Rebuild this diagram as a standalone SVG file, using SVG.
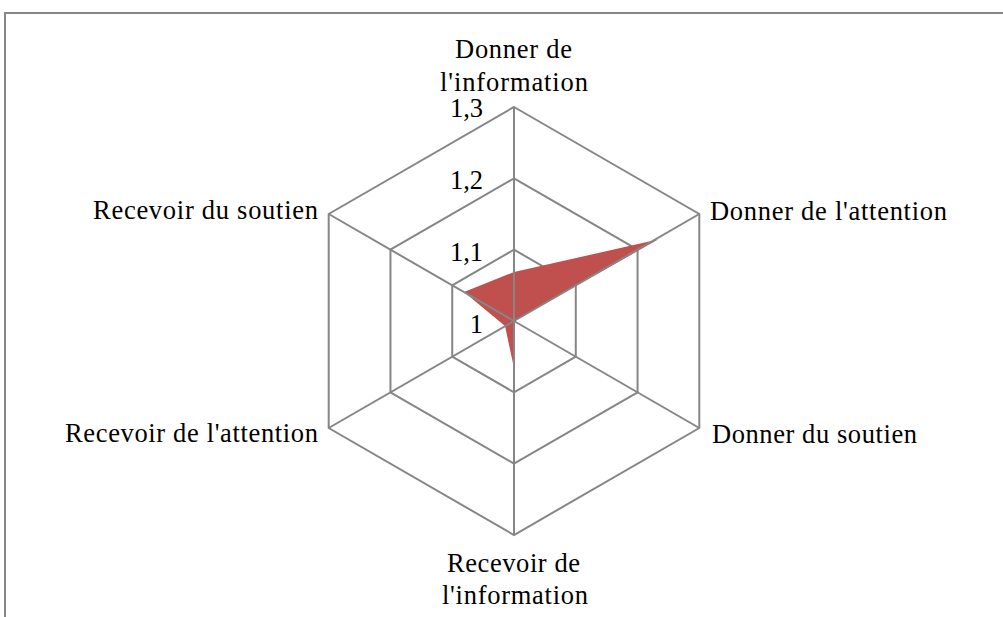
<svg xmlns="http://www.w3.org/2000/svg" width="1003" height="617" viewBox="0 0 1003 617">
<style>
.grid{fill:none;stroke:#868686;stroke-width:2}
.lbl{font-family:"Liberation Serif","Times New Roman",serif;font-size:26.5px;fill:#000}
.mid{text-anchor:middle}
.end{text-anchor:end}
</style>
<rect x="0" y="0" width="1003" height="617" fill="#fff"/>
<rect id="frame" x="5" y="13" width="1010" height="620" fill="#fff" stroke="#868686" stroke-width="2"/>
<g id="rings" class="grid">
<polygon points="514,107 699.3,214 699.3,428 514,535 328.7,428 328.7,214"/>
<polygon points="514,178.33 637.55,249.67 637.55,392.33 514,463.67 390.45,392.33 390.45,249.67"/>
<polygon points="514,249.67 575.77,285.33 575.77,356.67 514,392.33 452.23,356.67 452.23,285.33"/>
</g>
<g id="series">
<polygon points="464,292 514,272 658,239.5 514,321 514,368 505,326" fill="#C0504D"/>
</g>
<g id="connectors" class="grid">
<line x1="514" y1="321" x2="514" y2="107"/>
<line x1="514" y1="321" x2="699.3" y2="214"/>
<line x1="514" y1="321" x2="699.3" y2="428"/>
<line x1="514" y1="321" x2="514" y2="535"/>
<line x1="514" y1="321" x2="328.7" y2="428"/>
<line x1="514" y1="321" x2="328.7" y2="214"/>
</g>
<g id="ticks" class="lbl end">
<text x="483" y="117">1,3</text>
<text x="483" y="189">1,2</text>
<text x="483" y="260.5">1,1</text>
<text x="483" y="333">1</text>
</g>
<g id="label-donner-information" class="lbl mid">
<text x="513.5" y="58" textLength="117" lengthAdjust="spacing">Donner de</text>
<text x="514" y="90.7" textLength="148" lengthAdjust="spacing">l'information</text>
</g>
<g id="label-donner-attention" class="lbl">
<text x="710" y="220" textLength="237" lengthAdjust="spacing">Donner de l'attention</text>
</g>
<g id="label-donner-soutien" class="lbl">
<text x="712" y="443" textLength="205" lengthAdjust="spacing">Donner du soutien</text>
</g>
<g id="label-recevoir-information" class="lbl mid">
<text x="513.5" y="572" textLength="133" lengthAdjust="spacing">Recevoir de</text>
<text x="515" y="604" textLength="146" lengthAdjust="spacing">l'information</text>
</g>
<g id="label-recevoir-attention" class="lbl">
<text x="65" y="442" textLength="253" lengthAdjust="spacing">Recevoir de l'attention</text>
</g>
<g id="label-recevoir-soutien" class="lbl">
<text x="93" y="219" textLength="225" lengthAdjust="spacing">Recevoir du soutien</text>
</g>
</svg>
